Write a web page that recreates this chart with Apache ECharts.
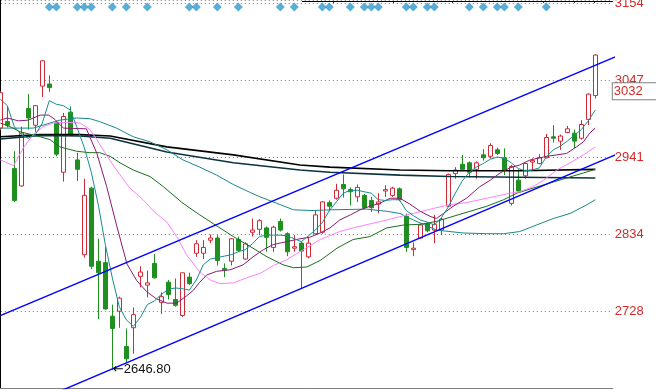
<!DOCTYPE html>
<html><head><meta charset="utf-8">
<script src="https://cdn.jsdelivr.net/npm/echarts@6/dist/echarts.min.js"></script>
<style>html,body{margin:0;padding:0;background:#fff}#c{width:656px;height:392px}</style>
</head><body><div id="c"></div>
<script>
// ---- data ----
const categories = Array.from({length: 88}, (_, i) => 'd' + i);
const opens  = [2981,2990,2925,2901,3008,2985,3039,3042,2988,2920,3003,2937,2806,2898,2797,2795,2721,2728,2679,2705,2776,2764,2794,2740,2768,2744,2722,2775,2808,2808,2826,2829,2787,2797,2827,2800,2837,2841,2843,2816,2852,2835,2815,2822,2803,2835,2837,2878,2884,2903,2896,2886,2888,2881,2876,2894,2888,2897,2859,2813,2829,2849,2840,2840,2873,2918,2931,2933,2924,2944,2942,2951,2940,2877,2909,2915,2934,2932,2940,2969,2963,2975,2974,2967,2993,3026];
const closes = [3030,2985,2881,2974,2995,3012,3074,3037,2945,2997,2971,2924,2888,2790,2781,2731,2704,2746,2662,2723,2782,2767,2774,2748,2751,2736,2781,2766,2821,2816,2829,2798,2785,2828,2812,2821,2840,2853,2830,2844,2840,2810,2817,2811,2822,2861,2879,2873,2895,2897,2893,2899,2871,2871,2879,2896,2898,2882,2816,2815,2847,2839,2848,2855,2917,2923,2924,2920,2933,2940,2957,2946,2923,2928,2894,2932,2936,2940,2968,2967,2970,2980,2963,2986,3028,3082];
const lows   = [2978,2982,2879,2900,2979,2976,3024,3031,2942,2907,2970,2908,2802,2786,2717,2730,2646.8,2705,2657,2669,2761,2747,2773,2724,2744,2734,2720,2764,2803,2800,2822,2791,2775,2791,2810,2799,2831,2833,2810,2810,2838,2804,2810,2759,2801,2834,2835,2866,2882,2885,2874,2879,2869,2865,2863,2886,2886,2880,2810,2804,2828,2837,2822,2833,2872,2911,2922,2913,2911,2936,2939,2944,2916,2874,2893,2911,2923,2931,2939,2961,2951,2974,2953,2965,2985,3022];
const highs  = [3032,3011,2949,2983,3028,3013,3075,3054,2990,3002,3011,2947,2911,2900,2828,2817,2737,2748,2704,2733,2790,2784,2807,2754,2771,2773,2781,2781,2826,2826,2834,2833,2794,2829,2831,2823,2856,2855,2845,2846,2856,2837,2833,2824,2831,2867,2880,2881,2904,2917,2899,2903,2890,2886,2891,2902,2900,2899,2863,2823,2849,2851,2861,2857,2918,2927,2944,2935,2935,2952,2960,2954,2953,2930,2924,2933,2939,2945,2973,2985,2972,2984,2979,2992,3029,3083];

const ma5 = [3021,3012,2983,2972,2967,2972,2988,3019,3014,3012,3006,2981,2954,2920,2875,2820,2774,2734,2716,2707,2719,2737,2742,2751,2758,2760,2759,2757,2771,2792,2800,2802,2804,2806,2810,2813,2821,2831,2833,2833,2833,2832,2828,2824,2832,2840,2850,2867,2879,2891,2895,2895,2893,2891,2882,2881,2882,2882,2867,2860,2854,2851,2847,2857,2872,2891,2908,2920,2927,2932,2938,2941,2939,2933,2925,2922,2923,2926,2941,2951,2956,2963,2971,2979,2991,3006];
const ma10 = [[0,2992],[1,2995],[2.6,2991],[4,2992],[5.7,2999],[6.9,2999],[7.8,2993],[9,2981],[12.3,2980],[13.8,2946],[15.2,2900],[16.6,2847],[18.1,2793],[19.5,2770],[20.9,2755],[22.3,2745],[23.8,2739],[25.2,2739],[26.6,2749],[27.6,2757],[28.5,2768],[29.5,2778],[30.9,2783],[32.8,2785],[34.7,2792],[36.1,2803],[37.6,2813],[39,2820],[40.9,2824],[42.8,2828],[44.2,2830],[45.7,2836],[47.1,2843],[48.5,2854],[50,2861],[51.4,2868],[52.8,2873],[54.2,2877],[55.7,2884],[57.1,2884],[58.5,2876],[60,2866],[61.4,2859],[62.3,2856],[63.3,2863],[64.7,2873],[66.6,2884],[68.5,2900],[70,2909],[71.4,2919],[72.8,2926],[74.2,2930],[75.7,2937],[78.1,2942],[79.5,2944],[80.9,2946],[82.3,2955],[83.3,2962],[84.2,2974],[85,2981]];
const ma20 = [[0,2937],[1.9,2929],[3.3,2954],[4.7,2972],[6.1,2983],[7.6,2988],[9.5,2989],[11.4,2988],[12.8,2979],[13.8,2965],[15.2,2943],[16.6,2923],[18.5,2898],[20.4,2882],[21.9,2866],[23.8,2851],[25.2,2831],[26.6,2806],[28.5,2782],[30,2771],[31.4,2766],[33.3,2767],[35.2,2774],[37.1,2780],[39,2791],[40.9,2799],[42.8,2810],[45.7,2827],[48.5,2838],[50.4,2843],[55.2,2854],[58.5,2862],[61.9,2870],[64.2,2875],[66.6,2878],[69.5,2884],[72.8,2891],[74.2,2893],[76.1,2900],[77.6,2909],[79.5,2923],[81.4,2933],[83.3,2944],[85,2955]];
const ma60 = [[0,2988],[1.4,2983],[2.8,2976],[5.7,2969],[7.1,2965],[8.5,2955],[10.9,2949],[12.8,2947],[14.2,2947],[15.7,2942],[17.1,2933],[19,2923],[21.4,2914],[23.3,2900],[26.1,2877],[28.5,2861],[30.4,2849],[33.3,2831],[36.1,2815],[38.1,2803],[40.4,2792],[41.9,2788],[43.8,2789],[45.7,2798],[48.1,2815],[50.4,2827],[52.8,2831],[55.2,2843],[57.6,2847],[60,2848],[62.3,2852],[64.7,2859],[67.1,2866],[69.5,2873],[71.9,2882],[73.8,2891],[76.1,2898],[78.5,2905],[80.9,2912],[83.3,2919],[85,2924]];
const ma120 = [[0,2981],[2.8,2981],[4.7,2981],[7.1,2988],[8.5,2992],[10.9,2995],[12.8,2994],[14.2,2990],[16.6,2981],[19,2969],[21.4,2962],[23.8,2951],[26.1,2937],[28.5,2927],[30.9,2916],[33.3,2903],[35.7,2892],[37.1,2886],[39.5,2877],[41.9,2868],[44.7,2867],[47.1,2868],[52.3,2869],[55.2,2866],[57.1,2863],[59,2854],[62.3,2840],[66.1,2836],[69.5,2835],[71.9,2835],[74.2,2838],[76.6,2847],[79,2856],[81.4,2863],[83.8,2875],[85,2882]];
const ma250 = [[0,2969],[5.7,2972],[11.4,2972],[15.7,2970],[23.8,2955],[33.3,2944],[42.8,2930],[47.1,2927],[57.1,2923],[64.2,2922],[74.2,2922],[85,2924]];
const ma180 = [[0,2966],[5.7,2971],[11.4,2970],[15.7,2967],[23.8,2948],[33.3,2933],[42.8,2923],[47.1,2920],[57.1,2916],[64.2,2914],[74.2,2913],[85,2912]];
const upperTrend = [[-1,2717.6],[88,3080.0]];
const lowerTrend = [[-1,2578.1],[88,2944.7]];
const signalIdx = [7,8,11,12,13,16,18,21,27,28,31,34,40,42,46,47,50,52,53,54,58,59,61,62,67,69,71,72,74,78];
const signalLevel = 3148.5;
const tickStart = 2621, tickStep = 106.6, axisTop = 3158.1;
const lowLabel = {idx: 16, value: 2646.80};
const lastPrice = 3032;
// frame segment along the top edge (from k=43.1 to the axis) with its small marks
const topFrame = {from: 43.1, to: 87.5, level: 3156.2, tickEnd: 3154.2, marks: [47.6, 56.1, 64.5, 77.5, 82.0, 84.8]};

// ---- chart ----
const chart = echarts.init(document.getElementById('c'));
const candleData = opens.map((o, i) => [o, closes[i], lows[i], highs[i]]);
const red = '#d02a36', green = '#1f8f1f', labelRed = '#d42a2a';
const lineS = (data, color, width, axis) => ({
  type: 'line', data, xAxisIndex: axis, showSymbol: false, silent: true,
  lineStyle: {color, width}, itemStyle: {color}, z: 3
});
const frameLines = [[{coord: [topFrame.from, topFrame.level]}, {coord: [topFrame.to, topFrame.level]}]]
  .concat(topFrame.marks.map(k => [{coord: [k, topFrame.level]}, {coord: [k, topFrame.tickEnd]}]));
chart.setOption({
  animation: false,
  backgroundColor: '#fff',
  grid: {left: -3.2, right: 43.2, top: 0, bottom: 3.5, containLabel: false, outerBoundsMode: 'none'},
  xAxis: [
    {type: 'category', data: categories, boundaryGap: true,
     axisLine: {show: true, onZero: false, lineStyle: {color: '#808080', width: 1}},
     axisTick: {show: false}, axisLabel: {show: false}, splitLine: {show: false}},
    {type: 'value', min: -0.5, max: 87.5, show: false}
  ],
  yAxis: {
    type: 'value', position: 'right', min: tickStart, max: axisTop, interval: tickStep,
    axisLine: {show: true, lineStyle: {color: '#000', width: 1}},
    axisTick: {show: false},
    axisLabel: {color: labelRed, fontSize: 13, fontFamily: 'Liberation Sans, Arial, sans-serif',
      margin: 2, showMinLabel: false, showMaxLabel: false, verticalAlign: 'middle',
      formatter: v => String(Math.round(v))},
    splitLine: {show: true, lineStyle: {color: '#7a7a7a', type: [1, 3], width: 1}}
  },
  series: [
    {
      type: 'candlestick', data: candleData, xAxisIndex: 0, barWidth: 5, silent: true, clip: false,
      itemStyle: {color: '#ffffff', color0: green, borderColor: red, borderColor0: green, borderWidth: 1},
      markPoint: {
        silent: true, symbol: 'circle', symbolSize: 1, itemStyle: {color: 'rgba(0,0,0,0)'},
        data: [{coord: [lowLabel.idx, lowLabel.value]}],
        label: {show: true, position: 'right', distance: 0,
          formatter: '{a|←}{b|' + lowLabel.value.toFixed(2) + '}',
          rich: {a: {fontFamily: 'DejaVu Sans', fontSize: 13, color: '#000'},
                 b: {fontFamily: 'Liberation Sans, Arial', fontSize: 13, color: '#111'}}}
      },
      markLine: {
        silent: true, symbol: ['none', 'none'], animation: false,
        lineStyle: {color: 'rgba(0,0,0,0)', width: 0},
        data: [{yAxis: lastPrice}],
        label: {show: true, position: 'end', distance: 0, formatter: String(lastPrice),
          color: labelRed, fontSize: 13, fontFamily: 'Liberation Sans, Arial',
          backgroundColor: '#fff', borderColor: '#808080', borderWidth: 1,
          padding: [2, 24, 1, 1], lineHeight: 13}
      }
    },
    lineS(ma250, '#000000', 1.6, 1),
    lineS(ma180, '#0a3340', 1.6, 1),
    lineS(ma120, '#188888', 1, 1),
    lineS(ma60, '#1a6e1a', 1, 1),
    lineS(ma20, '#ff80ff', 1, 1),
    lineS(ma10, '#8a1a72', 1, 1),
    lineS(ma5, '#1a8c8c', 1, 0),
    lineS(upperTrend, '#0000ff', 1.4, 1),
    lineS(lowerTrend, '#0000ff', 1.4, 1),
    {type: 'scatter', xAxisIndex: 1, silent: true, symbol: 'diamond', symbolSize: [9, 9],
     itemStyle: {color: '#3399cc'}, data: signalIdx.map(k => [k, signalLevel]), z: 4,
     markLine: {silent: true, symbol: ['none', 'none'], animation: false, label: {show: false},
       lineStyle: {color: '#000', width: 1, type: 'solid'}, data: frameLines}}
  ]
});
</script></body></html>
